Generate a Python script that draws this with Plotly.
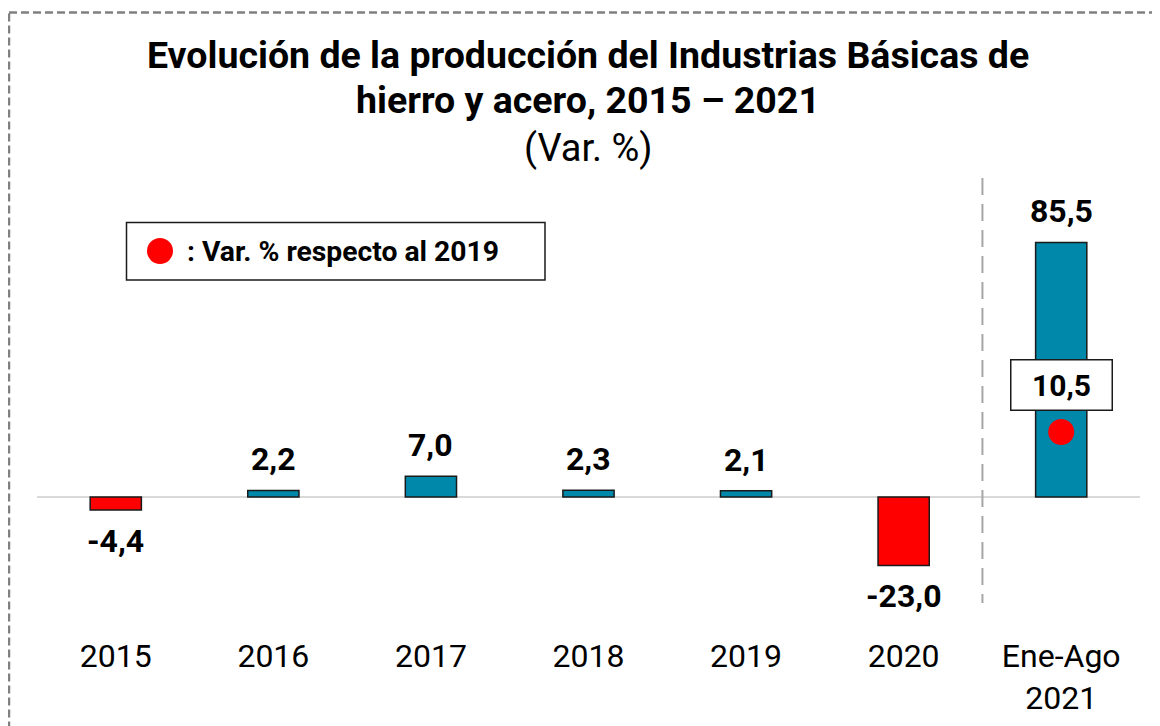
import plotly.graph_objects as go

# ---- data ----
categories = ["2015", "2016", "2017", "2018", "2019", "2020", "Ene-Ago<br>2021"]
values = [-4.4, 2.2, 7.0, 2.3, 2.1, -23.0, 85.5]
value_labels = ["-4,4", "2,2", "7,0", "2,3", "2,1", "-23,0", "85,5"]
dot_categories = ["Ene-Ago<br>2021"]
dot_values = [10.5]
dot_labels = ["10,5"]

title_lines = ["Evolución de la producción del Industrias Básicas de", "hierro y acero, 2015 – 2021"]
subtitle = "(Var. %)"
legend_text = ": Var. % respecto al 2019"

# ---- style ----
OFF = 8  # browser page margin
W, H = 1160 - OFF, 726 - OFF
BLUE = "#0088AB"
RED = "#FF0000"
FONT = "Roboto"


def fx(px):
    return (px - OFF) / W


def fy(px):
    return 1 - (px - OFF) / H


zero_px = 497
px_per_unit = 2.977
dom_top_px, dom_bot_px = 170, 634
ymax = (zero_px - dom_top_px) / px_per_unit
ymin = -(dom_bot_px - zero_px) / px_per_unit
# secondary axis for the red marker (var. respecto al 2019)
k = ((zero_px - 432) / px_per_unit) / dot_values[0]

colors = [BLUE if v >= 0 else RED for v in values]
idx = {c: i for i, c in enumerate(categories)}

fig = go.Figure()
fig.add_trace(go.Bar(
    x=categories, y=values, width=0.325,
    marker=dict(color=colors, line=dict(color="#1a1a1a", width=1.5)),
    hoverinfo="x+y", showlegend=False,
))
fig.add_trace(go.Scatter(
    x=dot_categories, y=dot_values, yaxis="y2", mode="markers",
    marker=dict(color=RED, size=26, line=dict(width=0)),
    showlegend=False,
))

annotations = []
for c, v, t in zip(categories, values, value_labels):
    annotations.append(dict(
        x=idx[c], y=v, xref="x", yref="y", text=f"<b>{t}</b>", showarrow=False,
        yshift=31 if v >= 0 else -31, yanchor="middle",
        font=dict(family=FONT, size=32, color="black"),
    ))
for c, t in zip(dot_categories, dot_labels):
    annotations.append(dict(
        x=idx[c], y=fy(384.5), xref="x", yref="paper", text=f"<b>{t}</b>", showarrow=False,
        yanchor="middle", xanchor="center", width=94, height=43, borderpad=3,
        bordercolor="#1a1a1a", borderwidth=1.5, bgcolor="white",
        font=dict(family=FONT, size=30, color="black"),
    ))
for line, ypx in zip(title_lines, [55, 100]):
    annotations.append(dict(
        x=fx(588), y=fy(ypx), xref="paper", yref="paper", text=f"<b>{line}</b>", showarrow=False,
        xanchor="center", yanchor="middle", font=dict(family=FONT, size=37.5, color="black"),
    ))
annotations.append(dict(
    x=fx(588), y=fy(148), xref="paper", yref="paper", text=subtitle, showarrow=False,
    xanchor="center", yanchor="middle", font=dict(family=FONT, size=38, color="black"),
))
annotations.append(dict(
    x=fx(185), y=fy(251), xref="paper", yref="paper", text=f"<b>{legend_text}</b>",
    showarrow=False, xanchor="left", yanchor="middle",
    font=dict(family=FONT, size=28.3, color="black"),
))

shapes = [
    # outer dashed frame
    dict(type="rect", xref="paper", yref="paper", x0=fx(9), x1=fx(1180), y0=fy(12.5), y1=fy(760),
         line=dict(color="#808080", width=2.5, dash="8px,4px"), fillcolor="rgba(0,0,0,0)", layer="above"),
    # divider between annual and partial-year data
    dict(type="line", xref="x", yref="paper", x0=5.5, x1=5.5, y0=fy(178), y1=fy(603),
         line=dict(color="#a6a6a6", width=2, dash="17px,9px")),
    # legend box
    dict(type="rect", xref="paper", yref="paper", x0=fx(126.5), x1=fx(545), y0=fy(222.5), y1=fy(280),
         line=dict(color="#1a1a1a", width=1.5), fillcolor="white"),
    dict(type="circle", xref="paper", yref="paper", xsizemode="pixel", ysizemode="pixel",
         xanchor=fx(160), yanchor=fy(251), x0=-13, x1=13, y0=-13, y1=13,
         line=dict(width=0), fillcolor=RED),
]

fig.update_layout(
    width=W, height=H,
    margin=dict(l=0, r=0, t=0, b=0),
    paper_bgcolor="white", plot_bgcolor="white",
    xaxis=dict(domain=[fx(37), fx(1140)], type="category", range=[-0.5, 6.5], showgrid=False,
               showline=False, ticks="", tickfont=dict(family=FONT, size=32, color="black")),
    yaxis=dict(domain=[fy(dom_bot_px), fy(dom_top_px)], range=[ymin, ymax], visible=True,
               showticklabels=False, showgrid=False, showline=False, ticks="",
               zeroline=True, zerolinecolor="#d9d9d9", zerolinewidth=2),
    yaxis2=dict(overlaying="y", range=[ymin / k, ymax / k], visible=False),
    annotations=annotations, shapes=shapes,
)

fig.write_html("out.html")
